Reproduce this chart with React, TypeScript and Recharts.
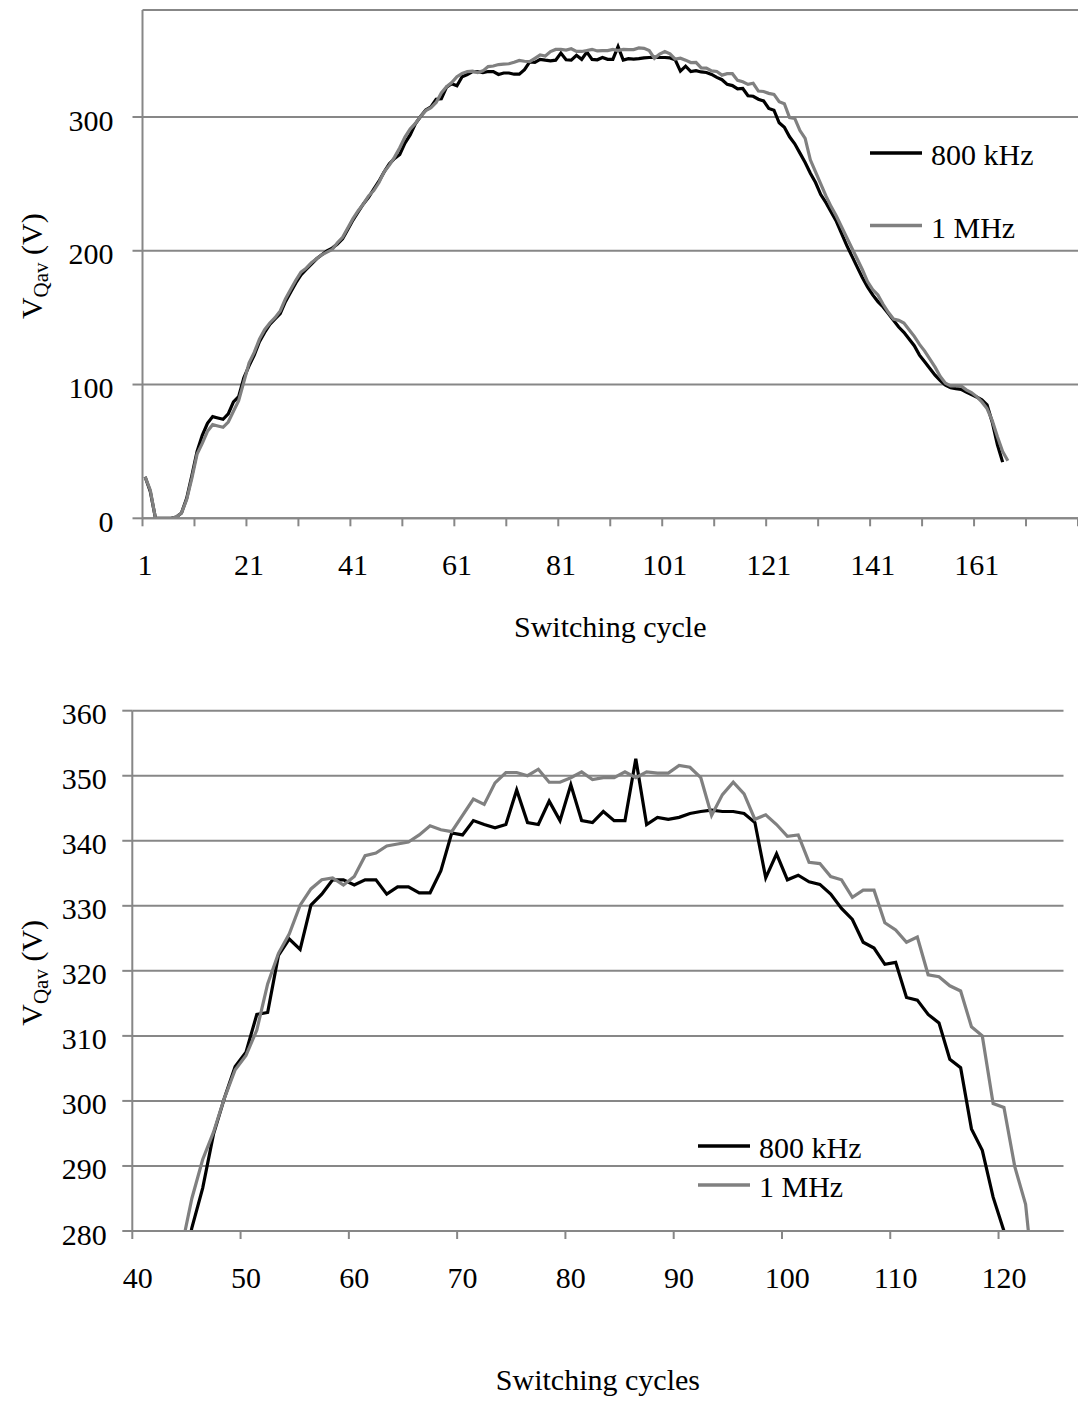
import React from 'react';
import { LineChart, Line, XAxis, YAxis, CartesianGrid, Legend } from 'recharts';

const FONT = "'Liberation Serif', 'Times New Roman', serif";
const GRID = '#878787';

// average voltage V_Qav (V) per switching cycle, cycle 1 first
const vq800kHz = [
  31, 20, 0, 0, 0, 0, 1, 4, 15, 32,
  50, 62, 71, 76, 75, 74, 78, 87, 91, 105,
  114, 122, 132, 139, 145, 149, 153, 162, 169, 176,
  182, 186, 190, 194, 197, 200, 202, 205, 209, 216,
  223, 229, 235, 240, 246, 252, 259, 265, 269, 272,
  280.5, 286.6, 294.9, 300.4, 305.3, 307.5, 313.3, 313.6, 322.4, 324.9,
  323.3, 330.1, 331.8, 334, 334, 333.2, 334, 334, 331.8, 332.9,
  332.9, 332, 332, 335.4, 341.2, 340.9, 343.1, 342.5, 342, 342.5,
  347.8, 342.8, 342.5, 346.1, 343.1, 348.6, 343.1, 342.8, 344.5, 343.1,
  343.1, 352.6, 342.5, 343.6, 343.3, 343.6, 344.2, 344.5, 344.7, 344.5,
  344.5, 344.2, 342.8, 334.3, 338, 334, 334.7, 333.7, 333.3, 331.8,
  329.6, 327.9, 324.4, 323.5, 321, 321.3, 315.9, 315.5, 313.3, 312,
  306.4, 305.1, 295.7, 292.4, 285.2, 280, 273, 266, 258, 251,
  242, 236, 229, 222, 213, 204, 196, 188, 180, 173,
  167, 162, 158, 153, 148, 143, 139, 134, 129, 122,
  117, 112, 107, 103, 99.5, 97.7, 97, 96.4, 94.3, 92.5,
  90.7, 88.6, 84.8, 71.8, 55, 42,
];

const vq1MHz = [
  31, 21, 0, 0, 0, 0, 1, 4, 14, 30,
  48, 56, 65, 70, 69, 68, 72, 80, 88, 102,
  116, 124, 134, 141, 146, 150, 155, 164, 171, 178,
  184, 187, 191, 194, 197, 199, 201, 206, 210, 217,
  224, 230, 235, 241, 245, 251, 259, 264, 270, 277,
  285, 291, 295.2, 300.4, 304.8, 307, 310.9, 318, 322.7, 325.7,
  330.1, 332.6, 334, 334.3, 333.2, 334.5, 337.7, 338.1, 339.2, 339.5,
  339.8, 340.9, 342.3, 341.7, 341.4, 343.9, 346.4, 345.6, 348.9, 350.5,
  350.5, 350, 351, 349, 349, 349.7, 350.6, 349.4, 349.7, 349.7,
  350.6, 349.7, 350.6, 350.4, 350.4, 351.6, 351.3, 349.7, 343.9, 347.1,
  349, 347.2, 343.3, 344, 342.5, 340.7, 340.9, 336.7, 336.5, 334.5,
  334, 331.3, 332.4, 332.4, 327.4, 326.3, 324.4, 325.2, 319.4, 319.1,
  317.7, 316.9, 311.4, 310, 299.6, 299, 289.9, 284.1, 268, 259,
  250, 241, 233, 226, 218, 210, 202, 194, 186, 177,
  171, 167, 160, 154, 149, 148, 146, 141, 136, 130,
  125, 119, 113, 106, 101, 99, 99, 99, 96, 94,
  91, 87, 82, 73, 61, 50, 43,
];

const seriesNames = ['800 kHz', '1 MHz'];

// overview panel
const fullYTicks = [0, 100, 200, 300];
const fullXTicks = [0.5, 10.5, 20.5, 30.5, 40.5, 50.5, 60.5, 70.5, 80.5, 90.5, 100.5, 110.5, 120.5, 130.5, 140.5, 150.5, 160.5, 170.5, 180.5];
const fullXLabels = [1, 21, 41, 61, 81, 101, 121, 141, 161];

// zoomed panel
const zoomYTicks = [280, 290, 300, 310, 320, 330, 340, 350, 360];
const zoomXTicks = [39.5, 49.5, 59.5, 69.5, 79.5, 89.5, 99.5, 109.5, 119.5];
const zoomXLabels = [40, 50, 60, 70, 80, 90, 100, 110, 120];
const ZOOM_SHIFT = 6; // the zoomed plot numbers its cycles 6 lower

const rows = vq1MHz.map((v, i) => ({
  cycle: i + 1,
  f800: vq800kHz[i] ?? null,
  f1M: v,
}));
const zoomRows = rows
  .filter((r) => r.cycle >= 49 && r.cycle <= 129)
  .map((r) => ({ ...r, cycle: r.cycle - ZOOM_SHIFT }));

function CycleTick(props: any) {
  const { x, y, payload, labels, half, drop } = props;
  const v = payload.value + 0.5;
  if (!labels.includes(v)) return <g />;
  return (
    <text x={x + half} y={y + drop} textAnchor="middle" fontFamily={FONT} fontSize={30} fill="#000">
      {v}
    </text>
  );
}

function VoltTick(props: any) {
  const { x, y, payload } = props;
  return (
    <text x={x} y={y + 13.5} textAnchor="end" fontFamily={FONT} fontSize={30} fill="#000">
      {payload.value}
    </text>
  );
}

function VoltTitle({ cy }: { cy: number }) {
  const cx = 42;
  return (
    <text transform={`rotate(-90 ${cx} ${cy})`} x={cx} y={cy} textAnchor="middle" fontFamily={FONT} fontSize={30} fill="#000">
      V<tspan fontSize={21} dy={6}>Qav</tspan>
      <tspan dy={-6}> (V)</tspan>
    </text>
  );
}

function CycleTitle({ vb, text, drop }: any) {
  return (
    <text x={vb.x + vb.width / 2} y={vb.y + drop} textAnchor="middle" fontFamily={FONT} fontSize={30} fill="#000">
      {text}
    </text>
  );
}

function LegendBox({ payload, gap }: any) {
  const items = [...(payload || [])].sort(
    (a: any, b: any) => seriesNames.indexOf(a.value) - seriesNames.indexOf(b.value)
  );
  return (
    <svg width={200} height={40 + gap} style={{ display: 'block' }}>
      {items.map((it: any, i: number) => {
        const y = 20 + i * gap;
        return (
          <g key={it.value}>
            <line x1={0} x2={52} y1={y} y2={y} stroke={it.color} strokeWidth={3.5} />
            <text x={61} y={y + 12} fontFamily={FONT} fontSize={30} fill="#000">
              {it.value}
            </text>
          </g>
        );
      })}
    </svg>
  );
}

const axisStroke = { stroke: GRID, strokeWidth: 2 };

export default function App() {
  return (
    <div style={{ position: 'absolute', left: 0, top: 0, width: 1078, height: 1404, background: '#fff' }}>
      <LineChart width={1078} height={660} data={rows} margin={{ top: 10, right: 0, bottom: 0, left: 0 }}>
        <CartesianGrid vertical={false} stroke={GRID} strokeWidth={2} />
        <XAxis
          dataKey="cycle"
          type="number"
          domain={[0.5, 180.5]}
          ticks={fullXTicks}
          interval={0}
          allowDataOverflow
          height={141.7}
          axisLine={axisStroke}
          tickLine={axisStroke}
          tickSize={8}
          tickMargin={0}
          tick={(p: any) => <CycleTick {...p} labels={fullXLabels} half={2.6} drop={49} />}
          label={(p: any) => <CycleTitle vb={p.viewBox} text="Switching cycle" drop={119} />}
        />
        <YAxis
          type="number"
          domain={[0, 380]}
          ticks={fullYTicks}
          interval={0}
          allowDataOverflow
          width={142.5}
          axisLine={axisStroke}
          tickLine={axisStroke}
          tickSize={10}
          tickMargin={19}
          tick={(p: any) => <VoltTick {...p} />}
          label={(p: any) => <VoltTitle cy={p.viewBox.y + p.viewBox.height / 2 + 2} />}
        />
        <Legend
          layout="horizontal"
          verticalAlign="middle"
          align="center"
          wrapperStyle={{ left: 870, top: 133, width: 200 }}
          content={(p: any) => <LegendBox payload={p.payload} gap={72.6} />}
        />
        <Line dataKey="f800" name="800 kHz" stroke="#000000" strokeWidth={3.2} dot={false} type="linear" isAnimationActive={false} />
        <Line dataKey="f1M" name="1 MHz" stroke="#808080" strokeWidth={3.2} dot={false} type="linear" isAnimationActive={false} />
      </LineChart>

      <LineChart width={1078} height={744} data={zoomRows} margin={{ top: 50.7, right: 14.5, bottom: 0, left: 0 }}>
        <CartesianGrid vertical={false} stroke={GRID} strokeWidth={2} />
        <XAxis
          dataKey="cycle"
          type="number"
          domain={[39.5, 125.5]}
          ticks={zoomXTicks}
          interval={0}
          allowDataOverflow
          height={173}
          axisLine={axisStroke}
          tickLine={axisStroke}
          tickSize={8}
          tickMargin={0}
          tick={(p: any) => <CycleTick {...p} labels={zoomXLabels} half={5.4} drop={49} />}
          label={(p: any) => <CycleTitle vb={p.viewBox} text="Switching cycles" drop={159} />}
        />
        <YAxis
          type="number"
          domain={[280, 360]}
          ticks={zoomYTicks}
          interval={0}
          allowDataOverflow
          width={132.3}
          axisLine={axisStroke}
          tickLine={axisStroke}
          tickSize={10}
          tickMargin={15.6}
          tick={(p: any) => <VoltTick {...p} />}
          label={(p: any) => <VoltTitle cy={p.viewBox.y + p.viewBox.height / 2 + 2} />}
        />
        <Legend
          layout="horizontal"
          verticalAlign="middle"
          align="center"
          wrapperStyle={{ left: 698, top: 466, width: 200 }}
          content={(p: any) => <LegendBox payload={p.payload} gap={39} />}
        />
        <Line dataKey="f800" name="800 kHz" stroke="#000000" strokeWidth={3.2} dot={false} type="linear" isAnimationActive={false} />
        <Line dataKey="f1M" name="1 MHz" stroke="#808080" strokeWidth={3.2} dot={false} type="linear" isAnimationActive={false} />
      </LineChart>
    </div>
  );
}
